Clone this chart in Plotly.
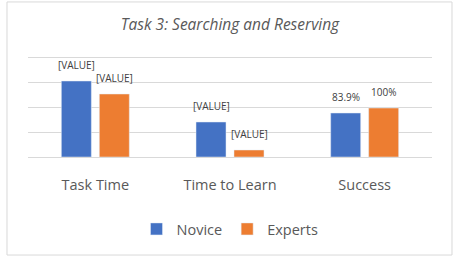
import plotly.graph_objects as go

categories = ["Task Time", "Time to Learn", "Success"]
novice_values = [1.52, 0.70, 0.88]
expert_values = [1.26, 0.14, 0.98]
novice_labels = ["[VALUE]", "[VALUE]", "83.9%"]
expert_labels = ["[VALUE]", "[VALUE]", "100%"]

BLUE = "#4472C4"
ORANGE = "#ED7D31"
TXT = "#595959"
GRID = "#d9d9d9"
FONT = "Open Sans"

fig = go.Figure()
fig.add_trace(go.Bar(name="Novice", x=categories, y=novice_values, marker_color=BLUE))
fig.add_trace(go.Bar(name="Experts", x=categories, y=expert_values, marker_color=ORANGE))

for i, c in enumerate(categories):
    for vals, labs, shift in ((novice_values, novice_labels, -19), (expert_values, expert_labels, 19)):
        fig.add_annotation(x=c, y=vals[i], text=labs[i], showarrow=False,
                           xshift=shift, yshift=7, yanchor="bottom",
                           font=dict(family=FONT, size=10, color="#404040"))

# outer chart border (paper coords relative to plot area of 55..157 px)
fig.add_shape(type="rect", xref="paper", yref="paper",
              x0=-0.052, x1=1.0495, y0=-0.961, y1=1.52,
              line=dict(color=GRID, width=1))

fig.update_layout(
    width=460, height=262,
    margin=dict(l=28, r=28, t=55, b=105),
    paper_bgcolor="white", plot_bgcolor="white",
    barmode="group", bargap=0.436, bargroupgap=0.21,
    title=dict(text="<i>Task 3: Searching and Reserving</i>", x=0.5, xanchor="center",
               y=1 - 25 / 262, yanchor="middle",
               font=dict(family=FONT, size=15.5, color=TXT)),
    font=dict(family=FONT, color=TXT),
    legend=dict(orientation="h", x=0.5, xanchor="center", y=-0.706, yanchor="middle",
                font=dict(family=FONT, size=14.5, color=TXT), itemwidth=30,
                traceorder="normal"),
    xaxis=dict(showline=True, linecolor=GRID, ticks="", ticklabelstandoff=15,
               tickfont=dict(family=FONT, size=14.5, color=TXT)),
    yaxis=dict(range=[0, 2.04], tickvals=[0.5, 1.0, 1.5, 2.0], showgrid=True, gridcolor=GRID,
               showticklabels=False, zeroline=False),
)

fig.write_html("out.html")
